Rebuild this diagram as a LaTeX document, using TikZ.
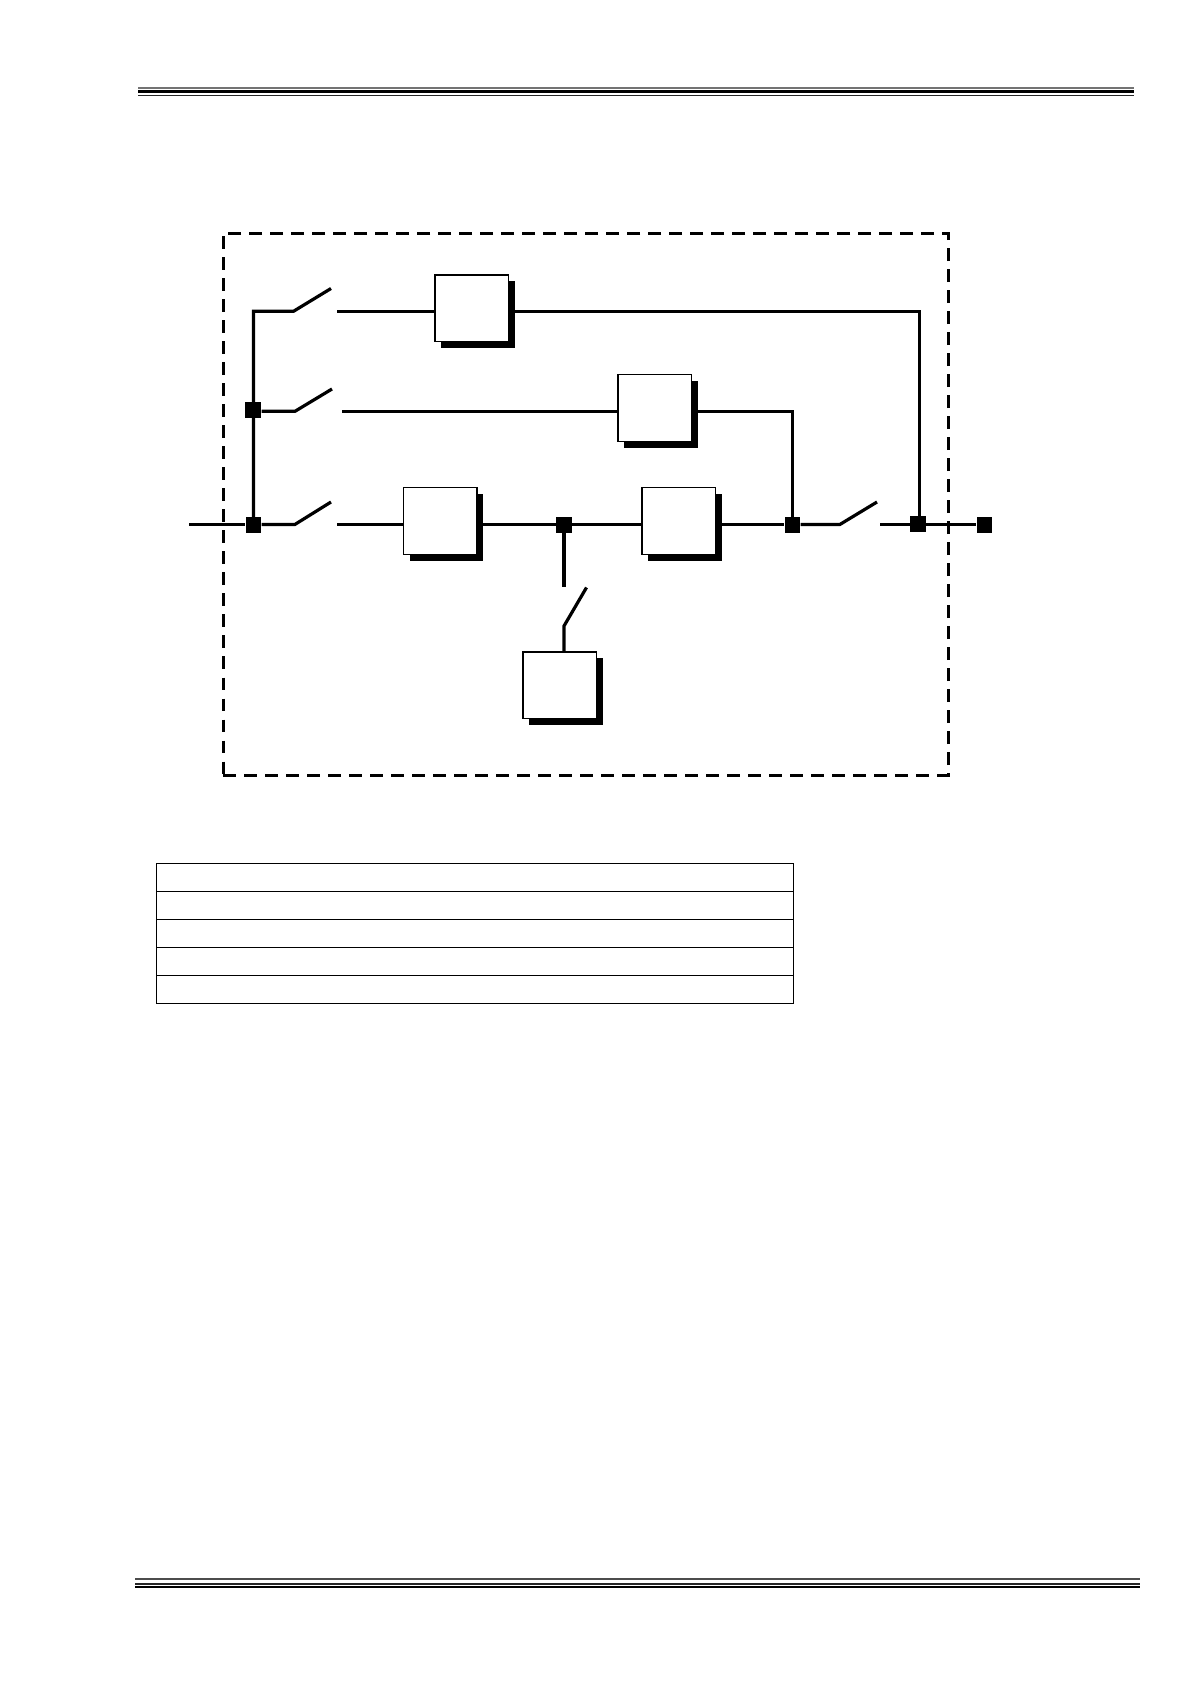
\documentclass[tikz,border=0pt]{standalone}
\usepackage{tikz}
\usetikzlibrary{calc,shadows}
\tikzset{
  wire/.style={draw=black,line width=1.6pt},
  dot/.style={rectangle,fill=black,inner sep=0pt,minimum size=7.8pt},
  unit/.style={rectangle,draw=black,fill=white,line width=0.7pt,inner sep=0pt,
    minimum width=36.7pt,minimum height=33.4pt,
    drop shadow={shadow xshift=3.1pt,shadow yshift=-3.2pt,fill=black,opacity=1}},
  frame/.style={rectangle,draw=black,line width=1.5pt,dash pattern=on 6.4pt off 4.1pt,
    inner sep=0pt,minimum width=362.5pt,minimum height=270.9pt},
  cell/.style={rectangle,draw=black,line width=0.5pt,inner sep=0pt,
    minimum width=318.7pt,minimum height=14pt},
}
\begin{document}
\begin{tikzpicture}[x=0.5pt,y=-0.5pt]
\useasboundingbox (0,0) rectangle (1190,1684);
% page rules
\coordinate (topL) at (138,0);
\coordinate (topR) at (1134,0);
\coordinate (botL) at (135,0);
\coordinate (botR) at (1140,0);
\draw[black!55,line width=0.7pt] (topL |- 0,88) -- (topR |- 0,88);
\draw[black,line width=1.8pt] (topL |- 0,91.6) -- (topR |- 0,91.6);
\draw[black!85,line width=0.9pt] (topL |- 0,95.5) -- (topR |- 0,95.5);
\draw[black!70,line width=1pt] (botL |- 0,1579.3) -- (botR |- 0,1579.3);
\draw[black!85,line width=1.1pt] (botL |- 0,1583.6) -- (botR |- 0,1583.6);
\draw[black,line width=1pt] (botL |- 0,1587.3) -- (botR |- 0,1587.3);
% dashed enclosure
\node[frame] (encl) at (585.8,504.2) {};
% blocks
\node[unit] (ups1) at (471.7,308.3) {};
\node[unit] (ups2) at (654.7,408) {};
\node[unit] (ups3) at (440.4,520.8) {};
\node[unit] (ups4) at (678.6,520.8) {};
\node[unit] (ups5) at (559.7,685.3) {};
% junctions
\node[dot,minimum size=8.2pt] (jB) at (253,410) {};
\node[dot] (jA) at (253.5,525) {};
\node[dot,minimum size=8pt] (jC) at (564,525) {};
\node[dot] (jD) at (792.3,525) {};
\node[dot,minimum size=8pt] (jE) at (918,524) {};
\node[dot] (term) at (984.5,525) {};
% free ends and switches
\coordinate (inp) at (189,524.4);
\coordinate (corner1) at (253.5,311.3);
\coordinate (sw1a) at (293.5,311.3);
\coordinate (sw1b) at (331,288.5);
\coordinate (sw1c) at (337,311.3);
\coordinate (sw2a) at (295,411.3);
\coordinate (sw2b) at (332,389);
\coordinate (sw2c) at (342,411.3);
\coordinate (sw3a) at (295,524.4);
\coordinate (sw3b) at (331,502);
\coordinate (sw3c) at (337,524.4);
\coordinate (sw4a) at (840,524.4);
\coordinate (sw4b) at (877,502);
\coordinate (sw4c) at (880,524.4);
\coordinate (sw5a) at (564,587);
\coordinate (sw5b) at (586.5,587.5);
\coordinate (sw5c) at (564,626);
\coordinate (turn2) at (792.3,411.3);
\coordinate (turn1) at (919.3,311.3);
% wiring
\draw[wire] (inp) -- (jA.west |- inp);
\draw[wire] (jA.east |- sw3a) -- (sw3a) -- (sw3b);
\draw[wire] (sw3c) -- (ups3.west |- sw3c);
\draw[wire] (ups3.east |- sw3c) -- (jC.west |- sw3c);
\draw[wire] (jC.east |- sw3c) -- (ups4.west |- sw3c);
\draw[wire] (ups4.east |- sw3c) -- (jD.west |- sw3c);
\draw[wire] (jD.east |- sw4a) -- (sw4a) -- (sw4b);
\draw[wire] (sw4c) -- (jE.west |- sw4c);
\draw[wire] (jE.east |- sw4c) -- (term.west |- sw4c);
\draw[wire] (jA) -- (corner1) -- (sw1a) -- (sw1b);
\draw[wire] (sw1c) -- (ups1.west |- sw1c);
\draw[wire] (ups1.east |- turn1) -- (turn1) -- (turn1 |- jE);
\draw[wire] (jB.east |- sw2a) -- (sw2a) -- (sw2b);
\draw[wire] (sw2c) -- (ups2.west |- sw2c);
\draw[wire] (ups2.east |- turn2) -- (turn2) -- (jD);
\draw[wire] (jC) -- (sw5a);
\draw[wire] (ups5.north -| sw5c) -- (sw5c) -- (sw5b);
% table
\node[cell] (row1) at (475,877.3) {};
\node[cell] (row2) at (475,905.3) {};
\node[cell] (row3) at (475,933.3) {};
\node[cell] (row4) at (475,961.3) {};
\node[cell] (row5) at (475,989.3) {};
\end{tikzpicture}
\end{document}
